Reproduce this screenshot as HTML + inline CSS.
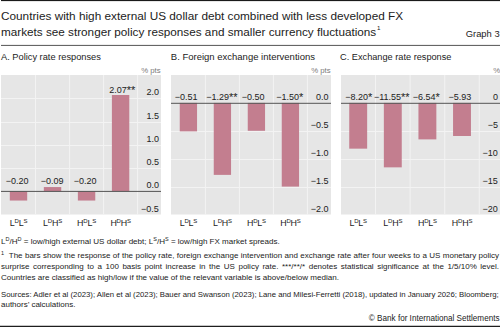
<!DOCTYPE html>
<html><head><meta charset="utf-8"><style>
html,body{margin:0;padding:0;background:#fff;width:500px;height:327px;overflow:hidden;position:relative}
svg{position:absolute;left:0;top:0}
text{font-family:"Liberation Sans",sans-serif;fill:#222}
.title{font-size:11.75px}
.graph{font-size:9.4px;text-anchor:end}

.val{font-size:9px;text-anchor:middle}
.ast{font-size:11px}
.tick{font-size:9px;text-anchor:end}
.unit{font-size:7.8px;fill:#7a7a7a}
.cat{font-size:8.9px;text-anchor:middle;letter-spacing:-0.2px}
.sup{font-size:6px}
.fn{position:absolute;left:1px;font-family:"Liberation Sans",sans-serif;font-size:8px;color:#222;white-space:nowrap;line-height:10px}
.just{width:498px;text-align:justify;text-align-last:justify;white-space:normal}
.fn sup{font-size:5.5px;vertical-align:baseline;position:relative;top:-3px}
</style></head><body>
<svg width="500" height="327" viewBox="0 0 500 327">
<rect x="1" y="0" width="499" height="1.1" fill="#1a1a1a"/>
<text x="1" y="19.8" class="title" style="font-size:11.79px">Countries with high external US dollar debt combined with less developed FX</text>
<text x="1" y="36.1" class="title" style="font-size:11.72px">markets see stronger policy responses and smaller currency fluctuations<tspan style="font-size:6.2px" dx="0.8" dy="-5.9">1</tspan></text>
<text x="499.6" y="36.5" class="graph">Graph 3</text>
<rect x="1" y="44.9" width="499" height="1" fill="#555"/>
<rect x="1.0" y="75.0" width="160" height="139.5" fill="#e6e6e6"/><rect x="1.0" y="98" width="160" height="1" fill="#f3f3f3"/><rect x="1.0" y="122" width="160" height="1" fill="#f3f3f3"/><rect x="1.0" y="145" width="160" height="1" fill="#f3f3f3"/><rect x="1.0" y="168" width="160" height="1" fill="#f3f3f3"/><rect x="35.01" y="75.0" width="1" height="139.5" fill="#f3f3f3"/><rect x="69.04" y="75.0" width="1" height="139.5" fill="#f3f3f3"/><rect x="103.07" y="75.0" width="1" height="139.5" fill="#f3f3f3"/><rect x="137.10" y="75.0" width="1" height="139.5" fill="#f3f3f3"/><rect x="9.80" y="191.25" width="17.4" height="9.30" fill="#c37e8f"/><rect x="43.83" y="187.06" width="17.4" height="4.19" fill="#c37e8f"/><rect x="77.86" y="191.25" width="17.4" height="9.30" fill="#c37e8f"/><rect x="111.89" y="95.00" width="17.4" height="96.25" fill="#c37e8f"/><rect x="1.0" y="190.9" width="160" height="1" fill="#555"/><text x="17.15" y="183.6" class="val">−0.20</text><text x="52.15" y="183.5" class="val">−0.09</text><text x="85.15" y="183.6" class="val">−0.20</text><text x="122.25" y="92.6" class="val">2.07<tspan class="ast" dy="1.3">**</tspan></text><text x="158.9" y="95.25" class="tick">2.0</text><text x="158.9" y="118.50" class="tick">1.5</text><text x="158.9" y="141.75" class="tick">1.0</text><text x="158.9" y="165.00" class="tick">0.5</text><text x="158.9" y="188.25" class="tick">0.0</text><text x="158.9" y="211.50" class="tick">−0.5</text><text x="141.2" y="72.8" class="unit">% pts</text><text x="18.50" y="226.2" class="cat">L<tspan class="sup" dy="-3.4">D</tspan><tspan dy="3.4">L</tspan><tspan class="sup" dy="-3.4">S</tspan></text><text x="52.52" y="226.2" class="cat">L<tspan class="sup" dy="-3.4">D</tspan><tspan dy="3.4">H</tspan><tspan class="sup" dy="-3.4">S</tspan></text><text x="86.56" y="226.2" class="cat">H<tspan class="sup" dy="-3.4">D</tspan><tspan dy="3.4">L</tspan><tspan class="sup" dy="-3.4">S</tspan></text><text x="120.59" y="226.2" class="cat">H<tspan class="sup" dy="-3.4">D</tspan><tspan dy="3.4">H</tspan><tspan class="sup" dy="-3.4">S</tspan></text><text x="1.0" y="59.8" class="ptitle" style="font-size:9.28px">A. Policy rate responses</text><rect x="171.0" y="75.0" width="160" height="139.5" fill="#e6e6e6"/><rect x="171.0" y="131" width="160" height="1" fill="#f3f3f3"/><rect x="171.0" y="159" width="160" height="1" fill="#f3f3f3"/><rect x="171.0" y="187" width="160" height="1" fill="#f3f3f3"/><rect x="204.90" y="75.0" width="1" height="139.5" fill="#f3f3f3"/><rect x="238.90" y="75.0" width="1" height="139.5" fill="#f3f3f3"/><rect x="272.90" y="75.0" width="1" height="139.5" fill="#f3f3f3"/><rect x="306.90" y="75.0" width="1" height="139.5" fill="#f3f3f3"/><rect x="179.75" y="102.90" width="17.3" height="28.46" fill="#c37e8f"/><rect x="213.75" y="102.90" width="17.3" height="71.98" fill="#c37e8f"/><rect x="247.75" y="102.90" width="17.3" height="27.90" fill="#c37e8f"/><rect x="281.75" y="102.90" width="17.3" height="83.70" fill="#c37e8f"/><rect x="171.0" y="102.8" width="160" height="1" fill="#555"/><text x="186.20" y="100" class="val">−0.51</text><text x="221.90" y="100" class="val">−1.29<tspan class="ast" dy="1.3">**</tspan></text><text x="253.20" y="100" class="val">−0.50</text><text x="289.75" y="100" class="val">−1.50<tspan class="ast" dy="1.3">*</tspan></text><text x="328.6" y="99.90" class="tick">0.0</text><text x="328.6" y="127.80" class="tick">−0.5</text><text x="328.6" y="155.70" class="tick">−1.0</text><text x="328.6" y="183.60" class="tick">−1.5</text><text x="328.6" y="211.50" class="tick">−2.0</text><text x="311.2" y="72.8" class="unit">% pts</text><text x="188.40" y="226.2" class="cat">L<tspan class="sup" dy="-3.4">D</tspan><tspan dy="3.4">L</tspan><tspan class="sup" dy="-3.4">S</tspan></text><text x="222.40" y="226.2" class="cat">L<tspan class="sup" dy="-3.4">D</tspan><tspan dy="3.4">H</tspan><tspan class="sup" dy="-3.4">S</tspan></text><text x="256.40" y="226.2" class="cat">H<tspan class="sup" dy="-3.4">D</tspan><tspan dy="3.4">L</tspan><tspan class="sup" dy="-3.4">S</tspan></text><text x="290.40" y="226.2" class="cat">H<tspan class="sup" dy="-3.4">D</tspan><tspan dy="3.4">H</tspan><tspan class="sup" dy="-3.4">S</tspan></text><text x="170.8" y="59.8" class="ptitle" style="font-size:9.5px">B. Foreign exchange interventions</text><rect x="341.0" y="75.0" width="160" height="139.5" fill="#e6e6e6"/><rect x="341.0" y="131" width="160" height="1" fill="#f3f3f3"/><rect x="341.0" y="159" width="160" height="1" fill="#f3f3f3"/><rect x="341.0" y="187" width="160" height="1" fill="#f3f3f3"/><rect x="375.00" y="75.0" width="1" height="139.5" fill="#f3f3f3"/><rect x="409.60" y="75.0" width="1" height="139.5" fill="#f3f3f3"/><rect x="444.20" y="75.0" width="1" height="139.5" fill="#f3f3f3"/><rect x="478.80" y="75.0" width="1" height="139.5" fill="#f3f3f3"/><rect x="349.25" y="102.90" width="17.9" height="45.76" fill="#c37e8f"/><rect x="383.85" y="102.90" width="17.9" height="64.45" fill="#c37e8f"/><rect x="418.45" y="102.90" width="17.9" height="36.49" fill="#c37e8f"/><rect x="453.05" y="102.90" width="17.9" height="33.09" fill="#c37e8f"/><rect x="341.0" y="102.8" width="160" height="1" fill="#555"/><text x="358.80" y="99.5" class="val">−8.20<tspan class="ast" dy="1.3">*</tspan></text><text x="391.75" y="99.5" class="val">−11.55<tspan class="ast" dy="1.3">**</tspan></text><text x="426.30" y="99.5" class="val">−6.54<tspan class="ast" dy="1.3">*</tspan></text><text x="459.90" y="99.5" class="val">−5.93</text><text x="497.9" y="99.90" class="tick">0</text><text x="497.9" y="127.80" class="tick">−5</text><text x="497.9" y="155.70" class="tick">−10</text><text x="497.9" y="183.60" class="tick">−15</text><text x="497.9" y="211.50" class="tick">−20</text><text x="493.2" y="72.8" class="unit">% pts</text><text x="358.20" y="226.2" class="cat">L<tspan class="sup" dy="-3.4">D</tspan><tspan dy="3.4">L</tspan><tspan class="sup" dy="-3.4">S</tspan></text><text x="392.80" y="226.2" class="cat">L<tspan class="sup" dy="-3.4">D</tspan><tspan dy="3.4">H</tspan><tspan class="sup" dy="-3.4">S</tspan></text><text x="427.40" y="226.2" class="cat">H<tspan class="sup" dy="-3.4">D</tspan><tspan dy="3.4">L</tspan><tspan class="sup" dy="-3.4">S</tspan></text><text x="462.00" y="226.2" class="cat">H<tspan class="sup" dy="-3.4">D</tspan><tspan dy="3.4">H</tspan><tspan class="sup" dy="-3.4">S</tspan></text><text x="340.1" y="59.8" class="ptitle" style="font-size:9.2px">C. Exchange rate response</text>
<rect x="0" y="325.75" width="500" height="1.25" fill="#1e1e1e"/>
</svg>
<div class="fn" style="top:237px;font-size:8.06px">L<sup>D</sup>/H<sup>D</sup> = low/high external US dollar debt; L<sup>S</sup>/H<sup>S</sup> = low/high FX market spreads.</div>
<div class="fn just" style="top:251px"><sup>1</sup>&nbsp; The bars show the response of the policy rate, foreign exchange intervention and exchange rate after four weeks to a US monetary policy</div>
<div class="fn just" style="top:261.8px">surprise corresponding to a 100 basis point increase in the US policy rate. ***/**/* denotes statistical significance at the 1/5/10% level.</div>
<div class="fn" style="top:272.7px;font-size:8.07px">Countries are classified as high/low if the value of the relevant variable is above/below median.</div>
<div class="fn" style="top:290.3px;font-size:7.77px">Sources: Adler et al (2023); Allen et al (2023); Bauer and Swanson (2023); Lane and Milesi-Ferretti (2018), updated in January 2026; Bloomberg;</div>
<div class="fn" style="top:300.4px">authors’ calculations.</div>
<div class="fn" style="top:314px;left:auto;right:0.5px;font-size:8.13px">© Bank for International Settlements</div>
</body></html>
